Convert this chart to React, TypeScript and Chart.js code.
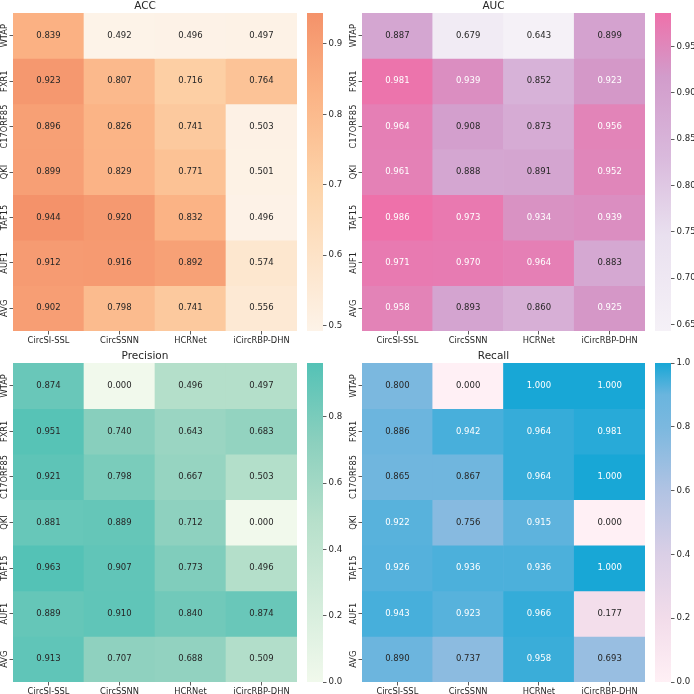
import React, { useEffect, useRef } from 'react';
import { Chart, registerables } from 'chart.js';

Chart.register(...registerables);

const rowLabels = ['WTAP', 'FXR1', 'C17ORF85', 'QKI', 'TAF15', 'AUF1', 'AVG'];
const modelLabels = ['CircSI-SSL', 'CircSSNN', 'HCRNet', 'iCircRBP-DHN'];

const accValues = [
  [0.839, 0.492, 0.496, 0.497],
  [0.923, 0.807, 0.716, 0.764],
  [0.896, 0.826, 0.741, 0.503],
  [0.899, 0.829, 0.771, 0.501],
  [0.944, 0.920, 0.832, 0.496],
  [0.912, 0.916, 0.892, 0.574],
  [0.902, 0.798, 0.741, 0.556],
];
const aucValues = [
  [0.887, 0.679, 0.643, 0.899],
  [0.981, 0.939, 0.852, 0.923],
  [0.964, 0.908, 0.873, 0.956],
  [0.961, 0.888, 0.891, 0.952],
  [0.986, 0.973, 0.934, 0.939],
  [0.971, 0.970, 0.964, 0.883],
  [0.958, 0.893, 0.860, 0.925],
];
const precisionValues = [
  [0.874, 0.000, 0.496, 0.497],
  [0.951, 0.740, 0.643, 0.683],
  [0.921, 0.798, 0.667, 0.503],
  [0.881, 0.889, 0.712, 0.000],
  [0.963, 0.907, 0.773, 0.496],
  [0.889, 0.910, 0.840, 0.874],
  [0.913, 0.707, 0.688, 0.509],
];
const recallValues = [
  [0.800, 0.000, 1.000, 1.000],
  [0.886, 0.942, 0.964, 0.981],
  [0.865, 0.867, 0.964, 1.000],
  [0.922, 0.756, 0.915, 0.000],
  [0.926, 0.936, 0.936, 1.000],
  [0.943, 0.923, 0.966, 0.177],
  [0.890, 0.737, 0.958, 0.693],
];

const accTicks = [0.5, 0.6, 0.7, 0.8, 0.9];
const aucTicks = [0.65, 0.7, 0.75, 0.8, 0.85, 0.9, 0.95];
const precisionTicks = [0.0, 0.2, 0.4, 0.6, 0.8];
const recallTicks = [0.0, 0.2, 0.4, 0.6, 0.8, 1.0];

type Stop = [number, string];
const accCmap: Stop[] = [[0, '#fdf3e8'], [0.45, '#fdd4aa'], [0.75, '#fbb385'], [1, '#f4926a']];
const aucCmap: Stop[] = [[0, '#f5f1f7'], [0.3, '#e9e0ef'], [0.55, '#d9b9dc'], [0.8, '#d29ccb'], [1, '#ee71aa']];
const precisionCmap: Stop[] = [[0, '#f1f9ec'], [0.5, '#b7e0cb'], [0.75, '#8cd0be'], [1, '#54c2b6']];
const recallCmap: Stop[] = [[0, '#fff0f5'], [0.2, '#f2dcea'], [0.4, '#dacfe6'], [0.6, '#b1c3e3'], [0.8, '#7bb8df'], [0.9, '#6ab5de'], [1, '#18a7d6']];

const FONT = "'DejaVu Sans', sans-serif";
const TEXT_DARK = '#262626';

function hexToRgb(h: string): number[] {
  const n = parseInt(h.slice(1), 16);
  return [(n >> 16) & 255, (n >> 8) & 255, n & 255];
}
function cmapRgb(stops: Stop[], t: number): number[] {
  t = Math.max(0, Math.min(1, t));
  for (let k = 1; k < stops.length; k++) {
    if (t <= stops[k][0]) {
      const [t0, c0] = stops[k - 1];
      const [t1, c1] = stops[k];
      const f = (t - t0) / (t1 - t0 || 1);
      const a = hexToRgb(c0), b = hexToRgb(c1);
      return a.map((v, i) => Math.round(v + (b[i] - v) * f));
    }
  }
  return hexToRgb(stops[stops.length - 1][1]);
}
function rgbStr(c: number[]) {
  return `rgb(${c[0]},${c[1]},${c[2]})`;
}
function luminance(c: number[]) {
  const lin = c.map((v) => {
    const s = v / 255;
    return s <= 0.03928 ? s / 12.92 : Math.pow((s + 0.055) / 1.055, 2.4);
  });
  return 0.2126 * lin[0] + 0.7152 * lin[1] + 0.0722 * lin[2];
}

type Panel = {
  title: string;
  values: number[][];
  ticks: number[];
  digits: number;
  cmap: Stop[];
  left: number;
  top: number;
  width: number;
  height: number;
  cbLeft: number;
};

const panels: Panel[] = [
  { title: 'ACC', values: accValues, ticks: accTicks, digits: 1, cmap: accCmap, left: 13, top: 13, width: 280, height: 318, cbLeft: 307 },
  { title: 'AUC', values: aucValues, ticks: aucTicks, digits: 2, cmap: aucCmap, left: 362, top: 13, width: 279, height: 318, cbLeft: 655 },
  { title: 'Precision', values: precisionValues, ticks: precisionTicks, digits: 1, cmap: precisionCmap, left: 13, top: 363, width: 280, height: 319, cbLeft: 307 },
  { title: 'Recall', values: recallValues, ticks: recallTicks, digits: 1, cmap: recallCmap, left: 362, top: 363, width: 279, height: 319, cbLeft: 655 },
];

const PAD_L = 20;
const PAD_R = 4;
const TITLE_H = 13;
const PAD_B = 16;
const CB_W = 16;
const CB_AXIS = 40;
const CB_PAD = 8;

function makeHeatmap(canvas: HTMLCanvasElement, p: Panel) {
  const flat = p.values.flat();
  const vmin = Math.min(...flat);
  const vmax = Math.max(...flat);
  const colorOf = (v: number) => cmapRgb(p.cmap, (v - vmin) / (vmax - vmin));

  const datasets = rowLabels.map((r, i) => ({
    label: r,
    data: modelLabels.map(() => [i, i + 1]),
    backgroundColor: p.values[i].map((v) => rgbStr(colorOf(v))),
    borderWidth: 0,
    grouped: false,
    barPercentage: 1,
    categoryPercentage: 1,
  }));

  const annotate = {
    id: 'annotate',
    afterDatasetsDraw(chart: any) {
      const ctx = chart.ctx;
      ctx.save();
      ctx.font = `8.5px ${FONT}`;
      ctx.textAlign = 'center';
      ctx.textBaseline = 'middle';
      chart.data.datasets.forEach((_: any, i: number) => {
        const meta = chart.getDatasetMeta(i);
        meta.data.forEach((el: any, j: number) => {
          const { x, y, base } = el.getProps(['x', 'y', 'base'], true);
          const v = p.values[i][j];
          ctx.fillStyle = luminance(colorOf(v)) > 0.408 ? TEXT_DARK : '#ffffff';
          ctx.fillText(v.toFixed(3), x, (y + base) / 2);
        });
      });
      ctx.restore();
    },
  };

  const yLabels = {
    id: 'yLabels',
    afterDraw(chart: any) {
      const ctx = chart.ctx;
      const ys = chart.scales.y;
      const xPos = chart.chartArea.left - 8.2;
      ctx.save();
      ctx.font = `8.3px ${FONT}`;
      ctx.fillStyle = TEXT_DARK;
      ctx.textAlign = 'center';
      ctx.textBaseline = 'middle';
      rowLabels.forEach((r, i) => {
        const yPix = ys.getPixelForValue(i + 0.5);
        ctx.save();
        ctx.translate(xPos, yPix);
        ctx.rotate(-Math.PI / 2);
        ctx.fillText(r, 0, 0);
        ctx.restore();
      });
      ctx.restore();
    },
  };

  return new Chart(canvas, {
    type: 'bar',
    data: { labels: modelLabels, datasets: datasets as any },
    options: {
      animation: false,
      responsive: false,
      maintainAspectRatio: false,
      layout: { padding: 0 },
      plugins: {
        legend: { display: false },
        tooltip: { enabled: false },
        title: {
          display: true,
          text: p.title,
          color: TEXT_DARK,
          font: { family: FONT, size: 10.5, weight: 'normal', lineHeight: 1.1 },
          padding: { top: 0.8, bottom: 0.65 },
        },
      },
      scales: {
        x: {
          type: 'category',
          offset: true,
          grid: { offset: false, drawOnChartArea: false, drawTicks: true, tickLength: 3.5, color: '#333333', lineWidth: 0.8 },
          border: { display: false },
          ticks: { color: TEXT_DARK, font: { family: FONT, size: 8.3 }, padding: 1, maxRotation: 0, minRotation: 0, autoSkip: false },
          afterFit(scale: any) { scale.height = PAD_B; },
        },
        y: {
          type: 'linear',
          min: 0,
          max: rowLabels.length,
          reverse: true,
          afterBuildTicks(scale: any) {
            scale.ticks = rowLabels.map((_, i) => ({ value: i + 0.5 }));
          },
          grid: { drawOnChartArea: false, drawTicks: true, tickLength: 3.5, color: '#333333', lineWidth: 0.8 },
          border: { display: false },
          ticks: { display: false },
          afterFit(scale: any) { scale.width = PAD_L; },
        },
      },
    } as any,
    plugins: [annotate, yLabels],
  });
}

function makeColorbar(canvas: HTMLCanvasElement, p: Panel) {
  const flat = p.values.flat();
  const vmin = Math.min(...flat);
  const vmax = Math.max(...flat);
  return new Chart(canvas, {
    type: 'bar',
    data: {
      labels: [p.title],
      datasets: [
        {
          data: [[vmin, vmax]],
          backgroundColor: (c: any) => {
            const area = c.chart.chartArea;
            if (!area) return 'rgba(0,0,0,0)';
            const g = c.chart.ctx.createLinearGradient(0, area.bottom, 0, area.top);
            p.cmap.forEach(([t, col]) => g.addColorStop(t, col));
            return g;
          },
          borderWidth: 0,
          barPercentage: 1,
          categoryPercentage: 1,
        } as any,
      ],
    },
    options: {
      animation: false,
      responsive: false,
      maintainAspectRatio: false,
      layout: { padding: { top: CB_PAD, bottom: CB_PAD, left: 0, right: 0 } },
      plugins: { legend: { display: false }, tooltip: { enabled: false }, title: { display: false } },
      scales: {
        x: { display: false },
        y: {
          type: 'linear',
          position: 'right',
          min: vmin,
          max: vmax,
          afterBuildTicks(scale: any) {
            scale.ticks = p.ticks.map((v) => ({ value: v }));
          },
          grid: { drawOnChartArea: false, drawTicks: true, tickLength: 3.5, color: '#333333', lineWidth: 0.8 },
          border: { display: false },
          ticks: {
            color: TEXT_DARK,
            font: { family: FONT, size: 8.6 },
            padding: 2,
            callback: (v: any) => Number(v).toFixed(p.digits),
          },
          afterFit(scale: any) { scale.width = CB_AXIS; },
        },
      },
    } as any,
  });
}

function PanelView({ p }: { p: Panel }) {
  const hmRef = useRef<HTMLCanvasElement>(null);
  const cbRef = useRef<HTMLCanvasElement>(null);
  useEffect(() => {
    const a = makeHeatmap(hmRef.current!, p);
    const b = makeColorbar(cbRef.current!, p);
    return () => {
      a.destroy();
      b.destroy();
    };
  }, [p]);
  const hmW = p.width + PAD_L + PAD_R;
  const hmH = p.height + TITLE_H + PAD_B;
  const cbW = CB_W + CB_AXIS;
  const cbH = p.height + 2 * CB_PAD;
  return (
    <>
      <canvas
        ref={hmRef}
        width={hmW}
        height={hmH}
        style={{ position: 'absolute', left: p.left - PAD_L, top: p.top - TITLE_H, width: hmW, height: hmH }}
      />
      <canvas
        ref={cbRef}
        width={cbW}
        height={cbH}
        style={{ position: 'absolute', left: p.cbLeft, top: p.top - CB_PAD, width: cbW, height: cbH }}
      />
    </>
  );
}

export default function App() {
  return (
    <div style={{ position: 'absolute', left: 0, top: 0, width: 694, height: 694, background: '#ffffff', overflow: 'hidden' }}>
      {panels.map((p) => (
        <PanelView key={p.title} p={p} />
      ))}
    </div>
  );
}
